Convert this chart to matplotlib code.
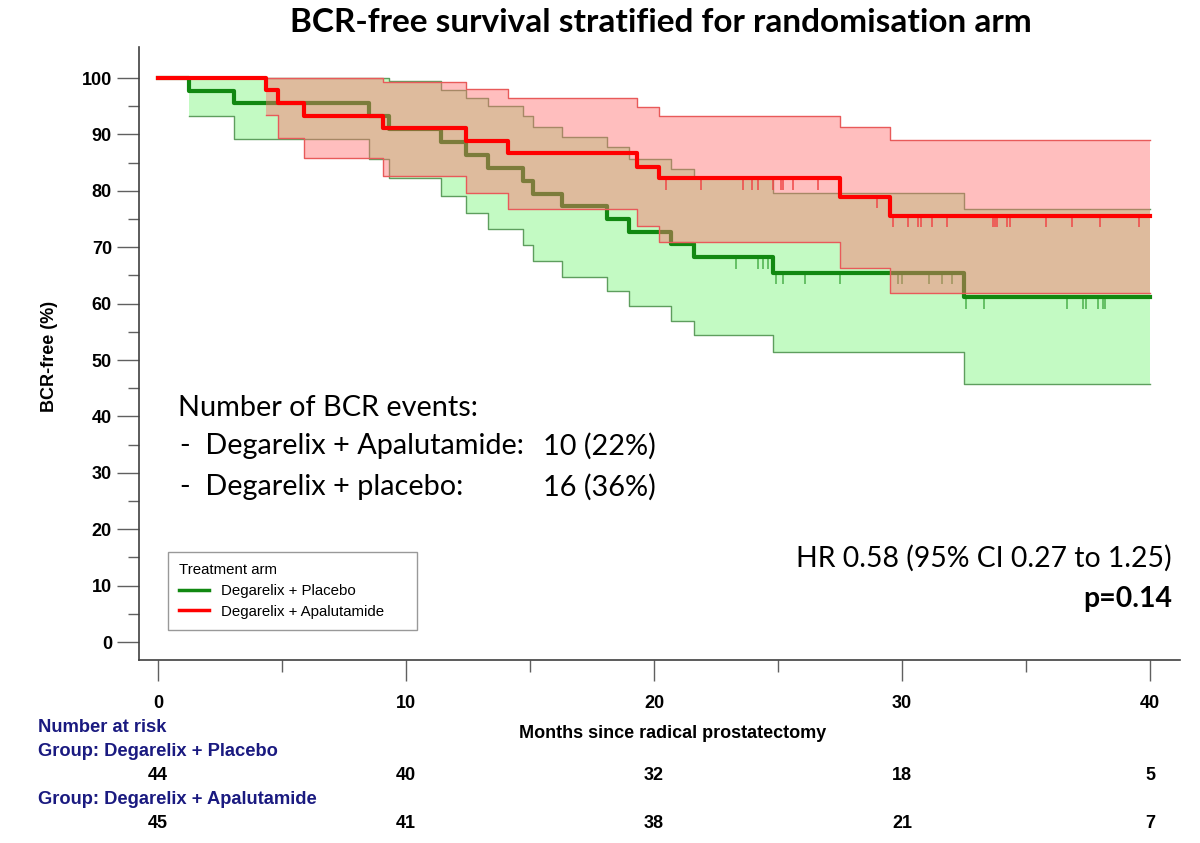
import numpy as np
import matplotlib
matplotlib.use("Agg")
import matplotlib.pyplot as plt
from matplotlib.lines import Line2D
from matplotlib.transforms import blended_transform_factory

# Degarelix + Placebo: event times (months), survival after each event, CI bounds
pl_t = [1.25, 3.07, 8.5, 9.3, 11.4, 12.4, 13.3, 14.7, 15.1, 16.3, 18.1, 19.0, 20.7, 21.6, 24.8, 32.5]
pl_s = [97.7, 95.5, 93.2, 90.9, 88.6, 86.4, 84.1, 81.8, 79.5, 77.3, 75.0, 72.7, 70.6, 68.2, 65.5, 61.1]
pl_up = [100, 100, 100, 99.4, 97.8, 96.5, 95.0, 93.2, 91.4, 89.6, 87.7, 85.7, 83.8, 82.4, 79.6, 76.8]
pl_lo = [93.3, 89.2, 85.7, 82.3, 79.1, 76.1, 73.3, 70.4, 67.6, 64.8, 62.3, 59.5, 57.0, 54.5, 51.4, 45.7]
pl_cens = [23.3, 24.2, 24.4, 24.6, 24.9, 25.2, 26.1, 27.5, 29.85, 30.0, 31.1, 31.6, 32.0,
           32.6, 33.3, 36.65, 37.3, 37.4, 37.9, 38.1, 38.2]

# Degarelix + Apalutamide
ap_t = [4.37, 4.85, 5.87, 9.06, 12.4, 14.1, 19.3, 20.2, 27.5, 29.5]
ap_s = [97.8, 95.6, 93.3, 91.1, 88.9, 86.7, 84.3, 82.2, 78.9, 75.6]
ap_up = [100, 100, 100, 99.3, 98.0, 96.5, 94.9, 93.3, 91.3, 89.0]
ap_lo = [93.4, 89.4, 85.8, 82.6, 79.6, 76.8, 73.8, 71.0, 66.4, 61.8]
ap_cens = [20.5, 21.9, 23.6, 23.95, 24.2, 24.8, 25.1, 25.2, 25.6, 26.6, 29.0, 29.65, 30.25,
           30.65, 30.75, 31.2, 31.8, 33.65, 33.75, 33.85, 34.25, 34.35, 35.8, 36.85, 38.0, 39.55]

risk_times = [0, 10, 20, 30, 40]
risk_pl = [44, 40, 32, 18, 5]
risk_ap = [45, 41, 38, 21, 7]

t_end = 40
W, H = 1200, 843


def fy(y):
    return 1 - y / H


def draw_arm(ax, t, s, up, lo, cens, line_c, fill_c, fill_a, edge_c, tick_c, z):
    xb = np.r_[t, t_end]
    ax.fill_between(xb, np.r_[lo, lo[-1]], np.r_[up, up[-1]], step="post",
                    color=fill_c, alpha=fill_a, lw=0, zorder=z)
    ax.step(xb, np.r_[up, up[-1]], where="post", color=edge_c, lw=1, zorder=z + 0.1)
    ax.step(xb, np.r_[lo, lo[-1]], where="post", color=edge_c, lw=1, zorder=z + 0.1)
    ax.step(np.r_[0, t, t_end], np.r_[100, s, s[-1]], where="post", color=line_c,
            lw=3, zorder=z + 0.3)
    levels = np.r_[100, s][np.searchsorted(t, cens, side="right")]
    ax.vlines(cens, levels - 2.0, levels, colors=tick_c, lw=1.1, zorder=z + 0.2)


fig = plt.figure(figsize=(12, 8.43), dpi=100)
ax = fig.add_axes([139 / W, fy(660), 1041 / W, 613 / H])

draw_arm(ax, pl_t, pl_s, pl_up, pl_lo, pl_cens, "#118811", "#c3fac3", 1.0, "#5e9e5e", "#4cb04c", 1)
draw_arm(ax, ap_t, ap_s, ap_up, ap_lo, ap_cens, "#ff0000", "#ff6f6f", 0.45, "#e85a5a", "#f04848", 3)

ax.set_xlim(-0.77, 41.21)
ax.set_ylim(-3.19, 105.5)
for side in ("top", "right"):
    ax.spines[side].set_visible(False)
for side in ("left", "bottom"):
    ax.spines[side].set_color("#404040")
    ax.spines[side].set_linewidth(1.2)

ax.set_xticks(range(0, 41, 10))
ax.set_xticks(range(5, 40, 10), minor=True)
ax.set_yticks(range(0, 101, 10))
ax.set_yticks(range(5, 100, 10), minor=True)
ax.tick_params(axis="x", which="major", length=15, width=1, color="#606060", pad=10)
ax.tick_params(axis="x", which="minor", length=8.5, width=1, color="#606060")
ax.tick_params(axis="y", which="major", length=16, width=1, color="#606060", pad=3.5)
ax.tick_params(axis="y", which="minor", length=8, width=1, color="#606060")
for lab in ax.get_xticklabels() + ax.get_yticklabels():
    lab.set_fontfamily("Liberation Sans")
    lab.set_fontweight("bold")
    lab.set_fontsize(13)

handles = [Line2D([], [], color="#118811", lw=2.5), Line2D([], [], color="#ff0000", lw=2.5)]
leg = ax.legend(handles, ["Degarelix + Placebo", "Degarelix + Apalutamide"],
                title="Treatment arm", loc="lower left",
                bbox_to_anchor=(0.028, 0.049, 0.239, 0.0), mode="expand",
                borderaxespad=0, frameon=True, fancybox=False, edgecolor="#808080",
                prop={"family": "Liberation Sans", "size": 10.8},
                title_fontproperties={"family": "Liberation Sans", "size": 10.8},
                alignment="left", handlelength=2.0, labelspacing=0.45, borderpad=0.75)
leg.get_frame().set_linewidth(1)

fig.text(661 / W, fy(22), "BCR-free survival stratified for randomisation arm",
         family="Lato", weight="bold", fontsize=24, ha="center", va="center")
fig.text(50 / W, fy(356), "BCR-free (%)", family="Liberation Sans", weight="bold",
         fontsize=13, rotation=90, ha="center", va="center")
fig.text(673 / W, fy(734), "Months since radical prostatectomy", family="Liberation Sans",
         weight="bold", fontsize=13, ha="center", va="center")

fig.text(178 / W, fy(408), "Number of BCR events:", family="Lato", fontsize=20.8, va="center")
fig.text(180 / W, fy(446), "-  Degarelix + Apalutamide:", family="Lato", fontsize=20.8, va="center")
fig.text(543 / W, fy(446), "10 (22%)", family="Lato", fontsize=20.8, va="center")
fig.text(180 / W, fy(487), "-  Degarelix + placebo:", family="Lato", fontsize=20.8, va="center")
fig.text(543 / W, fy(487), "16 (36%)", family="Lato", fontsize=20.8, va="center")

fig.text(1172 / W, fy(558), "HR 0.58 (95% CI 0.27 to 1.25)", family="Lato", fontsize=20.4,
         ha="right", va="center")
fig.text(1172 / W, fy(599), "p=0.14", family="Lato", weight="bold", fontsize=20.4,
         ha="right", va="center")

navy = "#1a1a80"
fig.text(38 / W, fy(728), "Number at risk", family="Liberation Sans", weight="bold",
         fontsize=13.2, color=navy, va="center")
fig.text(38 / W, fy(752), "Group: Degarelix + Placebo", family="Liberation Sans",
         weight="bold", fontsize=13.2, color=navy, va="center")
fig.text(38 / W, fy(800), "Group: Degarelix + Apalutamide", family="Liberation Sans",
         weight="bold", fontsize=13.2, color=navy, va="center")
trans = blended_transform_factory(ax.transData, fig.transFigure)
for x, n1, n2 in zip(risk_times, risk_pl, risk_ap):
    ax.text(x, fy(776), str(n1), transform=trans, family="Liberation Sans", weight="bold",
            fontsize=13, ha="center", va="center", clip_on=False)
    ax.text(x, fy(824), str(n2), transform=trans, family="Liberation Sans", weight="bold",
            fontsize=13, ha="center", va="center", clip_on=False)

fig.savefig("out.png", dpi=100)
